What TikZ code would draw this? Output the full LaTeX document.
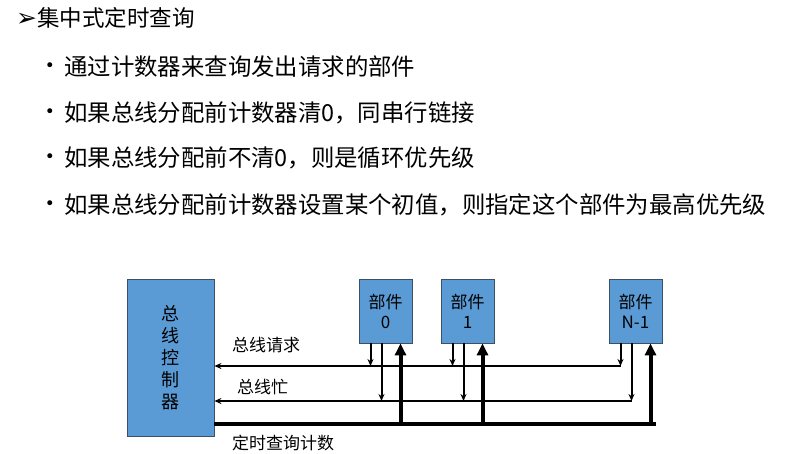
\documentclass[tikz,border=0pt]{standalone}
\usepackage{fontspec}
\setmainfont{Noto Sans CJK SC}
\newfontfamily\dingfont{DejaVu Sans}
\usetikzlibrary{arrows.meta}
\definecolor{boxblue}{RGB}{91,155,213}
\definecolor{boxedge}{RGB}{60,80,100}
\tikzset{
  unitbox/.style={draw=boxedge, line width=0.8pt, fill=boxblue, inner sep=0pt, align=center,
    font=\fontsize{17}{20}\selectfont},
  sigline/.style={line width=2pt, -{Stealth[length=7pt,width=6pt]}},
  thickline/.style={line width=4.5pt},
  uparrow/.style={line width=4pt, -{Triangle[length=12pt,width=11pt]}},
  bodytext/.style={anchor=west, inner sep=0pt, font=\fontsize{23.4}{28}\selectfont},
  bulletdot/.style={inner sep=0pt, font=\dingfont\fontsize{17}{20}\selectfont},
  lbl/.style={anchor=west, inner sep=0pt, font=\fontsize{17}{20}\selectfont}
}
\begin{document}
\begin{tikzpicture}[x=1pt,y=-1pt]
\useasboundingbox (0,0) rectangle (802,453);

% heading and bullets
\node[anchor=west, inner sep=0pt, font=\fontsize{22.5}{26}\selectfont] (title) at (16,18) {{\dingfont\fontsize{25}{26}\selectfont ➢}集中式定时查询};
\node[bulletdot] (b1) at (50,67) {•};
\node[bodytext] (t1) at (64,67) {通过计数器来查询发出请求的部件};
\node[bulletdot] (b2) at (50,113) {•};
\node[bodytext] (t2) at (64,113) {如果总线分配前计数器清0，同串行链接};
\node[bulletdot] (b3) at (50,158) {•};
\node[bodytext] (t3) at (64,158) {如果总线分配前不清0，则是循环优先级};
\node[bulletdot] (b4) at (50,205) {•};
\node[bodytext] (t4) at (64,205) {如果总线分配前计数器设置某个初值，则指定这个部件为最高优先级};

% boxes
\node[unitbox, minimum width=87pt, minimum height=157pt, font=\fontsize{18}{22}\selectfont] (ctrl) at (170.5,357.5) {总\\线\\控\\制\\器};
\node[unitbox, minimum width=53pt, minimum height=64pt] (p0) at (385.5,311) {部件\\0};
\node[unitbox, minimum width=53pt, minimum height=64pt] (p1) at (467.5,311) {部件\\1};
\node[unitbox, minimum width=53pt, minimum height=64pt] (pn) at (635.5,311) {部件\\N-1};

% bus line levels
\coordinate (rq) at (0,366);
\coordinate (bz) at (0,401);
\coordinate (ct) at (0,424);

% request line
\coordinate (rqend) at ([xshift=-15pt]pn.south |- rq);
\draw[sigline] (rqend) -- (ctrl.east |- rq);
% busy line
\coordinate (bzend) at ([xshift=-4pt]pn.south |- bz);
\draw[sigline] (bzend) -- (ctrl.east |- bz);
% count line
\coordinate (ctend) at ([xshift=20pt]pn.south |- ct);
\draw[thickline] (ctrl.east |- ct) -- (ctend);

% component arrows
\foreach \p in {p0,p1,pn}{
  \draw[sigline] ([xshift=-15pt]\p.south) -- ([xshift=-15pt]\p.south |- rq);
  \draw[sigline] ([xshift=-4pt]\p.south) -- ([xshift=-4pt]\p.south |- bz);
  \draw[uparrow] ([xshift=15pt]\p.south |- ct) -- ([xshift=15pt]\p.south);
}

% labels
\node[lbl] (lrq) at (232,345) {总线请求};
\node[lbl] (lbz) at (237,387) {总线忙};
\node[lbl] (lct) at (232,443) {定时查询计数};
\end{tikzpicture}
\end{document}
